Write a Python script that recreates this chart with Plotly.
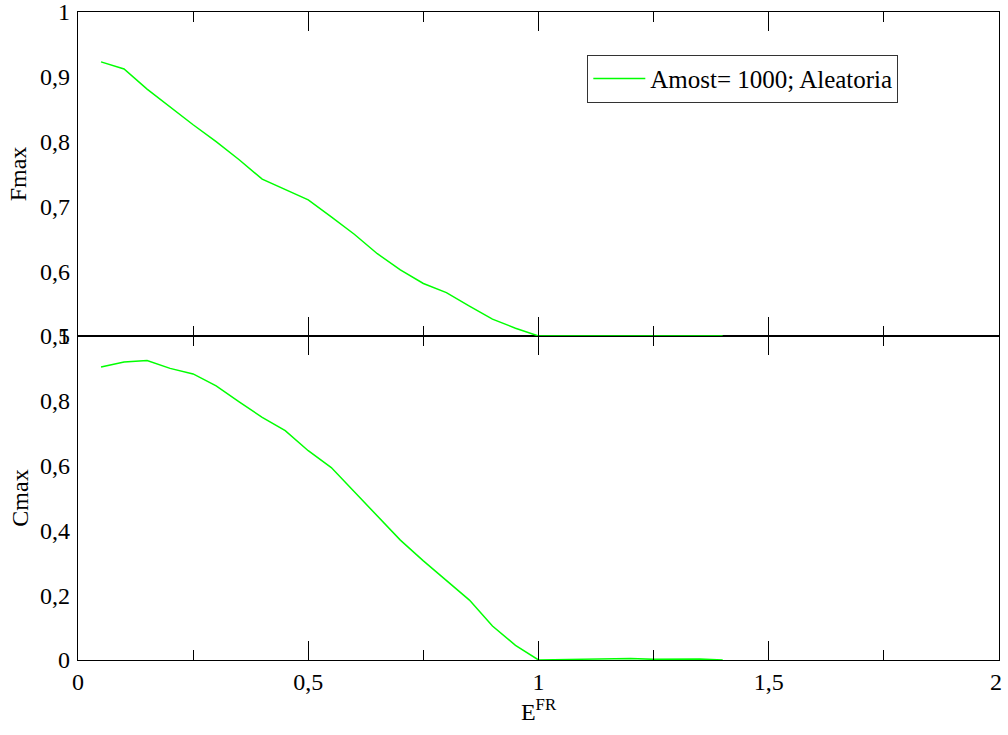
import plotly.graph_objects as go

e_fr = [0.05, 0.10, 0.15, 0.20, 0.25, 0.30, 0.35, 0.40, 0.45, 0.50,
        0.55, 0.60, 0.65, 0.70, 0.75, 0.80, 0.85, 0.90, 0.95, 1.00,
        1.05, 1.10, 1.15, 1.20, 1.25, 1.30, 1.35, 1.40]
fmax = [0.923, 0.912, 0.881, 0.853, 0.826, 0.800, 0.772, 0.742, 0.726, 0.710,
        0.684, 0.657, 0.627, 0.602, 0.581, 0.567, 0.546, 0.526, 0.512, 0.500,
        0.5000, 0.5001, 0.5003, 0.5005, 0.5002, 0.5002, 0.5003, 0.5000]
cmax = [0.904, 0.920, 0.924, 0.900, 0.883, 0.846, 0.797, 0.749, 0.708, 0.646,
        0.594, 0.519, 0.444, 0.370, 0.306, 0.247, 0.185, 0.105, 0.045, 0.000,
        0.001, 0.002, 0.003, 0.005, 0.002, 0.002, 0.003, 0.000]

series_name = "Amost= 1000; Aleatoria"
x_ticks = [0, 0.5, 1, 1.5, 2]
x_ticktext = ["0", "0,5", "1", "1,5", "2\u00a0"]
f_ticks = [0.5, 0.6, 0.7, 0.8, 0.9, 1.0]
f_ticktext = ["0,5", "0,6", "0,7", "0,8", "0,9", "1"]
c_ticks = [0, 0.2, 0.4, 0.6, 0.8, 1.0]
c_ticktext = ["0", "0,2", "0,4", "0,6", "0,8", "1"]

FONT = "'Liberation Serif', 'Times New Roman', Times, 'DejaVu Serif', serif"
GREEN = "#00ff00"

fig = go.Figure()
fig.add_trace(go.Scatter(x=e_fr, y=fmax, mode="lines", name=series_name,
                         line=dict(color=GREEN, width=1.5),
                         xaxis="x2", yaxis="y2", showlegend=True))
fig.add_trace(go.Scatter(x=e_fr, y=cmax, mode="lines", name=series_name,
                         line=dict(color=GREEN, width=1.5),
                         xaxis="x", yaxis="y", showlegend=False))

xcommon = dict(range=[0, 2], showline=True, linecolor="black", linewidth=1.3,
               mirror="ticks", ticks="inside", ticklen=19, tickcolor="black",
               tickwidth=1.3, tickvals=x_ticks, showgrid=False, zeroline=False,
               automargin=False, ticklabeloverflow="allow",
               minor=dict(ticks="inside", ticklen=10, tickcolor="black",
                          tickwidth=1.3, tickvals=[0.25, 0.75, 1.25, 1.75]))

ycommon = dict(ticks="", showline=True, linecolor="black", linewidth=1.3,
               mirror=True, showgrid=False, zeroline=False, automargin=False,
               ticklabelstandoff=2, ticklabeloverflow="allow")

fig.update_layout(
    width=1008, height=735,
    margin=dict(l=78, r=9, t=12, b=75),
    paper_bgcolor="white", plot_bgcolor="white",
    font=dict(family=FONT, size=24, color="black"),
    xaxis=dict(**xcommon, domain=[0, 1], anchor="y", ticktext=x_ticktext,
               title=dict(text="E<sup>FR</sup>", font=dict(family=FONT, size=24), standoff=2)),
    xaxis2=dict(**xcommon, domain=[0, 1], anchor="y2", matches="x",
                showticklabels=False),
    yaxis=dict(**ycommon, domain=[0, 0.5], range=[0, 1], tickvals=c_ticks,
               ticktext=c_ticktext,
               title=dict(text="Cmax", font=dict(family=FONT, size=24), standoff=4)),
    yaxis2=dict(**ycommon, domain=[0.5, 1], range=[0.5, 1], tickvals=f_ticks,
                ticktext=f_ticktext, anchor="x2",
                title=dict(text="Fmax", font=dict(family=FONT, size=24), standoff=6)),
    legend=dict(x=0.553, y=0.934, xanchor="left", yanchor="top",
                bgcolor="white", bordercolor="#333333", borderwidth=1,
                itemwidth=52,
                font=dict(family=FONT, size=25)),
)

fig.write_html("out.html", config={"displayModeBar": False},
               post_script="document.body.style.margin='0px';document.body.style.overflow='hidden';")
